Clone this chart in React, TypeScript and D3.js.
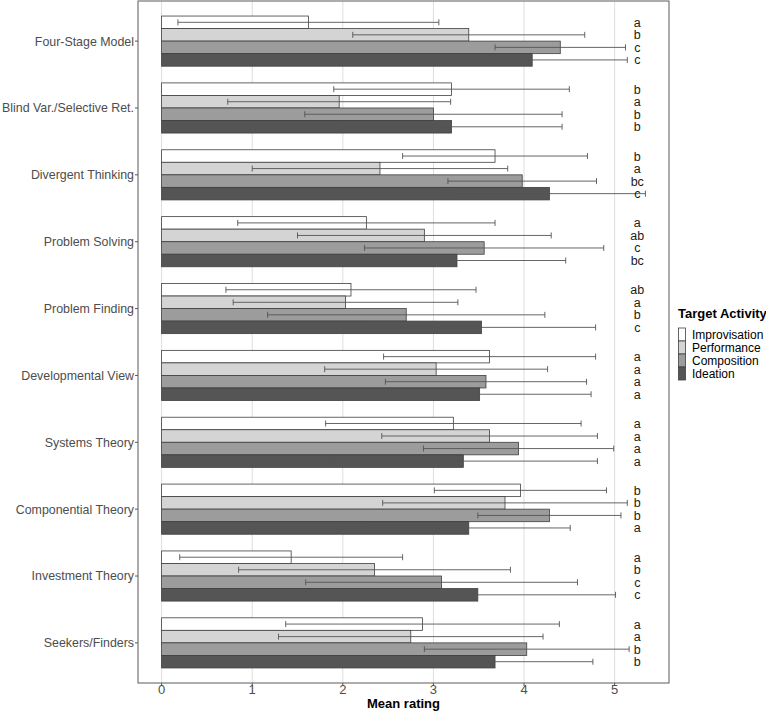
import { useMemo } from "react";
import * as d3 from "d3";

const categories = [
  "Four-Stage Model",
  "Blind Var./Selective Ret.",
  "Divergent Thinking",
  "Problem Solving",
  "Problem Finding",
  "Developmental View",
  "Systems Theory",
  "Componential Theory",
  "Investment Theory",
  "Seekers/Finders",
];

const activities = ["Improvisation", "Performance", "Composition", "Ideation"];
const fills = ["#ffffff", "#d4d4d4", "#9c9c9c", "#555555"];

const impMean = [1.62, 3.2, 3.68, 2.26, 2.09, 3.62, 3.22, 3.96, 1.43, 2.88];
const impSd = [1.44, 1.3, 1.02, 1.42, 1.38, 1.17, 1.41, 0.95, 1.23, 1.51];
const perfMean = [3.39, 1.96, 2.41, 2.9, 2.03, 3.03, 3.62, 3.79, 2.35, 2.75];
const perfSd = [1.28, 1.23, 1.41, 1.4, 1.24, 1.23, 1.19, 1.35, 1.5, 1.46];
const compMean = [4.4, 3.0, 3.98, 3.56, 2.7, 3.58, 3.94, 4.28, 3.09, 4.03];
const compSd = [0.72, 1.42, 0.82, 1.32, 1.53, 1.11, 1.05, 0.79, 1.5, 1.13];
const ideaMean = [4.09, 3.2, 4.28, 3.26, 3.53, 3.51, 3.33, 3.39, 3.49, 3.68];
const ideaSd = [1.05, 1.22, 1.06, 1.2, 1.26, 1.23, 1.48, 1.12, 1.52, 1.08];

const impLetters = ["a", "b", "b", "a", "ab", "a", "a", "b", "a", "a"];
const perfLetters = ["b", "a", "a", "ab", "a", "a", "a", "b", "b", "a"];
const compLetters = ["c", "b", "bc", "c", "b", "a", "a", "b", "c", "b"];
const ideaLetters = ["c", "b", "c", "bc", "c", "a", "a", "a", "c", "b"];

const xTicks = [0, 1, 2, 3, 4, 5];
const letterX = 5.25;

const FONT = "'Liberation Sans', Arial, Helvetica, sans-serif";

export default function App() {
  const width = 766;
  const height = 712;
  const panel = { left: 138, right: 669, top: 1, bottom: 683 };

  const rows = useMemo(() => {
    const means = [impMean, perfMean, compMean, ideaMean];
    const sds = [impSd, perfSd, compSd, ideaSd];
    const letters = [impLetters, perfLetters, compLetters, ideaLetters];
    const out: { cat: string; act: string; i: number; mean: number; sd: number; letter: string }[] = [];
    categories.forEach((cat, ci) => {
      activities.forEach((act, ai) => {
        out.push({ cat, act, i: ai, mean: means[ai][ci], sd: sds[ai][ci], letter: letters[ai][ci] });
      });
    });
    return out;
  }, []);

  const x = d3.scaleLinear().domain([-0.2605, 5.6]).range([panel.left, panel.right]);
  const y = d3.scalePoint().domain(categories).range([panel.top, panel.bottom]).padding(0.6);
  const groupW = y.step() * 0.75;
  const inner = d3.scaleBand().domain(activities).range([-groupW / 2, groupW / 2]);
  const bw = inner.bandwidth();

  // legend key positions
  const key = d3.scaleBand().domain(activities).range([328, 380]);

  return (
    <svg width={width} height={height} style={{ position: "absolute", left: 0, top: 0, background: "#fff" }} fontFamily={FONT}>
      <rect x={panel.left} y={panel.top} width={panel.right - panel.left} height={panel.bottom - panel.top} fill="#fff" />
      {xTicks.map((t) => (
        <line key={t} x1={x(t)} x2={x(t)} y1={panel.top} y2={panel.bottom} stroke="#dedede" strokeWidth={1} />
      ))}

      {rows.map((r, k) => {
        const yc = (y(r.cat) as number) + (inner(r.act) as number);
        return (
          <rect key={"b" + k} x={x(0)} y={yc} width={x(r.mean) - x(0)} height={bw}
            fill={fills[r.i]} stroke="#3f3f3f" strokeWidth={0.8} />
        );
      })}

      {rows.map((r, k) => {
        const ym = (y(r.cat) as number) + (inner(r.act) as number) + bw / 2;
        const lo = x(r.mean - r.sd);
        const hi = x(r.mean + r.sd);
        return (
          <g key={"e" + k} stroke="#555" strokeWidth={0.9}>
            <line x1={lo} x2={hi} y1={ym} y2={ym} />
            <line x1={lo} x2={lo} y1={ym - 3} y2={ym + 3} />
            <line x1={hi} x2={hi} y1={ym - 3} y2={ym + 3} />
          </g>
        );
      })}

      {rows.map((r, k) => {
        const ym = (y(r.cat) as number) + (inner(r.act) as number) + bw / 2;
        return (
          <text key={"l" + k} x={x(letterX)} y={ym} dy="0.36em" textAnchor="middle" fontSize={12.5} fill="#1a1a1a">
            {r.letter}
          </text>
        );
      })}

      <rect x={panel.left} y={panel.top} width={panel.right - panel.left} height={panel.bottom - panel.top}
        fill="none" stroke="#5a5a5a" strokeWidth={1} />

      {categories.map((c) => (
        <g key={c}>
          <line x1={panel.left - 3} x2={panel.left} y1={y(c)} y2={y(c)} stroke="#555" />
          <text x={panel.left - 4} y={y(c)} dy="0.36em" textAnchor="end" fontSize={12.4} fill="#4d4d4d">{c}</text>
        </g>
      ))}

      {xTicks.map((t) => (
        <g key={"t" + t}>
          <line x1={x(t)} x2={x(t)} y1={panel.bottom} y2={panel.bottom + 3} stroke="#555" />
          <text x={x(t)} y={panel.bottom + 11} textAnchor="middle" fontSize={13} fill="#4d4d4d">{t}</text>
        </g>
      ))}
      <text x={(panel.left + panel.right) / 2} y={708} textAnchor="middle" fontSize={13} fontWeight="bold" fill="#000">
        Mean rating
      </text>

      <g transform="translate(678,0)">
        <text x={0} y={318} fontSize={13} fontWeight="bold" fill="#000">Target Activity</text>
        {activities.map((a, i) => (
          <g key={a}>
            <rect x={0.5} y={key(a)} width={7} height={key.bandwidth()} fill={fills[i]} stroke="#3f3f3f" strokeWidth={0.8} />
            <text x={14} y={(key(a) as number) + key.bandwidth() / 2} dy="0.36em" fontSize={12} fill="#000">{a}</text>
          </g>
        ))}
      </g>
    </svg>
  );
}
